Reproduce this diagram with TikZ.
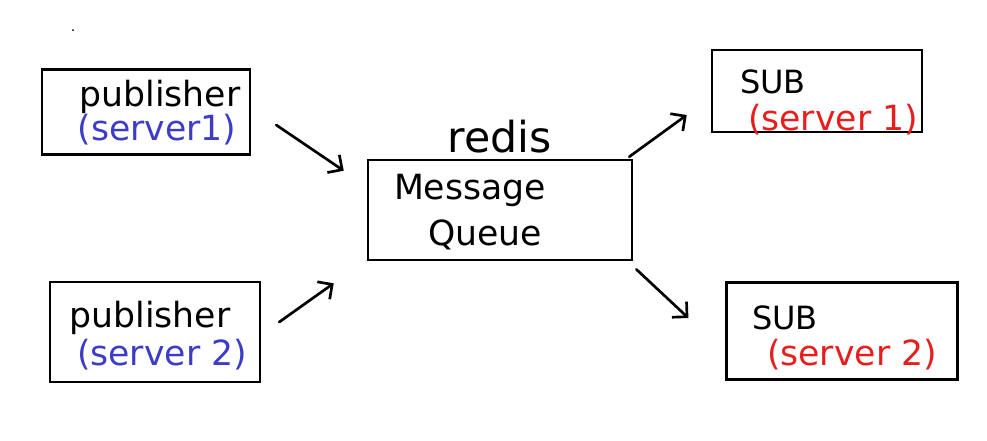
\documentclass[tikz,border=0pt]{standalone}
\usepackage{fontspec}
\setmainfont{DejaVu Sans}
\usepackage{xcolor}
\usetikzlibrary{arrows.meta,positioning}

\definecolor{srvblue}{RGB}{60,60,200}
\definecolor{srvred}{RGB}{230,30,30}

\begin{document}
\begin{tikzpicture}[
  x=0.75pt, y=-0.75pt,
  sbox/.style={rectangle, draw, line width=1.9pt, inner sep=0pt},
  stxt/.style={font=\fontsize{26}{29}\selectfont, inner sep=0pt},
  pubsrv/.style={stxt, text=srvblue},
  subsrv/.style={stxt, text=srvred},
  sarr/.style={-{Straight Barb[length=8pt,width=16pt,line width=2pt]},
    line width=2pt, line cap=round},
]
  \useasboundingbox (0,0) rectangle (987,440);

  %% -- boxes ----------------------------------------------------
  \node[sbox, minimum width=156pt, minimum height=64pt] (pub1) at (146,112) {};
  \node[sbox, minimum width=157.5pt, minimum height=75pt] (pub2) at (155,332) {};
  \node[sbox, minimum width=198pt, minimum height=75pt] (mq) at (500,210) {};
  \node[sbox, minimum width=157.5pt, minimum height=61.5pt] (sub1) at (817,91) {};
  \node[sbox, minimum width=173pt, minimum height=73pt] (sub2) at (842,331) {};

  %% -- texts ----------------------------------------------------
  \node[stxt] (pub1a) at (160,97) {publisher};
  \node[pubsrv] (pub1b) at (157,130) {(server1)};
  \node[stxt] (pub2a) at (150,318) {publisher};
  \node[pubsrv] (pub2b) at (162,355) {(server 2)};
  \node[stxt, font=\fontsize{32}{34}\selectfont] (redis) at (500,137) {redis};
  \node[stxt] (mqa) at (470,190) {Message};
  \node[stxt] (mqb) at (485,235) {Queue};
  \node[stxt, font=\fontsize{24}{26}\selectfont] (sub1a) at (773,82) {SUB};
  \node[subsrv] (sub1b) at (833,120) {(server 1)};
  \node[stxt, font=\fontsize{24}{26}\selectfont] (sub2a) at (785,318) {SUB};
  \node[subsrv] (sub2b) at (852,355) {(server 2)};

  \fill (73,30) circle (1);

  %% -- arrows ---------------------------------------------------
  \draw[sarr] ([shift={(25,13)}]pub1.east) -- ([shift={(-23,12)}]mq.north west);
  \draw[sarr] ([shift={(18,-10)}]pub2.east) -- ([shift={(-33,22)}]mq.south west);
  \draw[sarr] ([shift={(-4,-2)}]mq.north east) -- ([shift={(-24,24)}]sub1.west);
  \draw[sarr] ([shift={(3,8)}]mq.south east) -- ([shift={(-37,-13)}]sub2.west);

\end{tikzpicture}
\end{document}
